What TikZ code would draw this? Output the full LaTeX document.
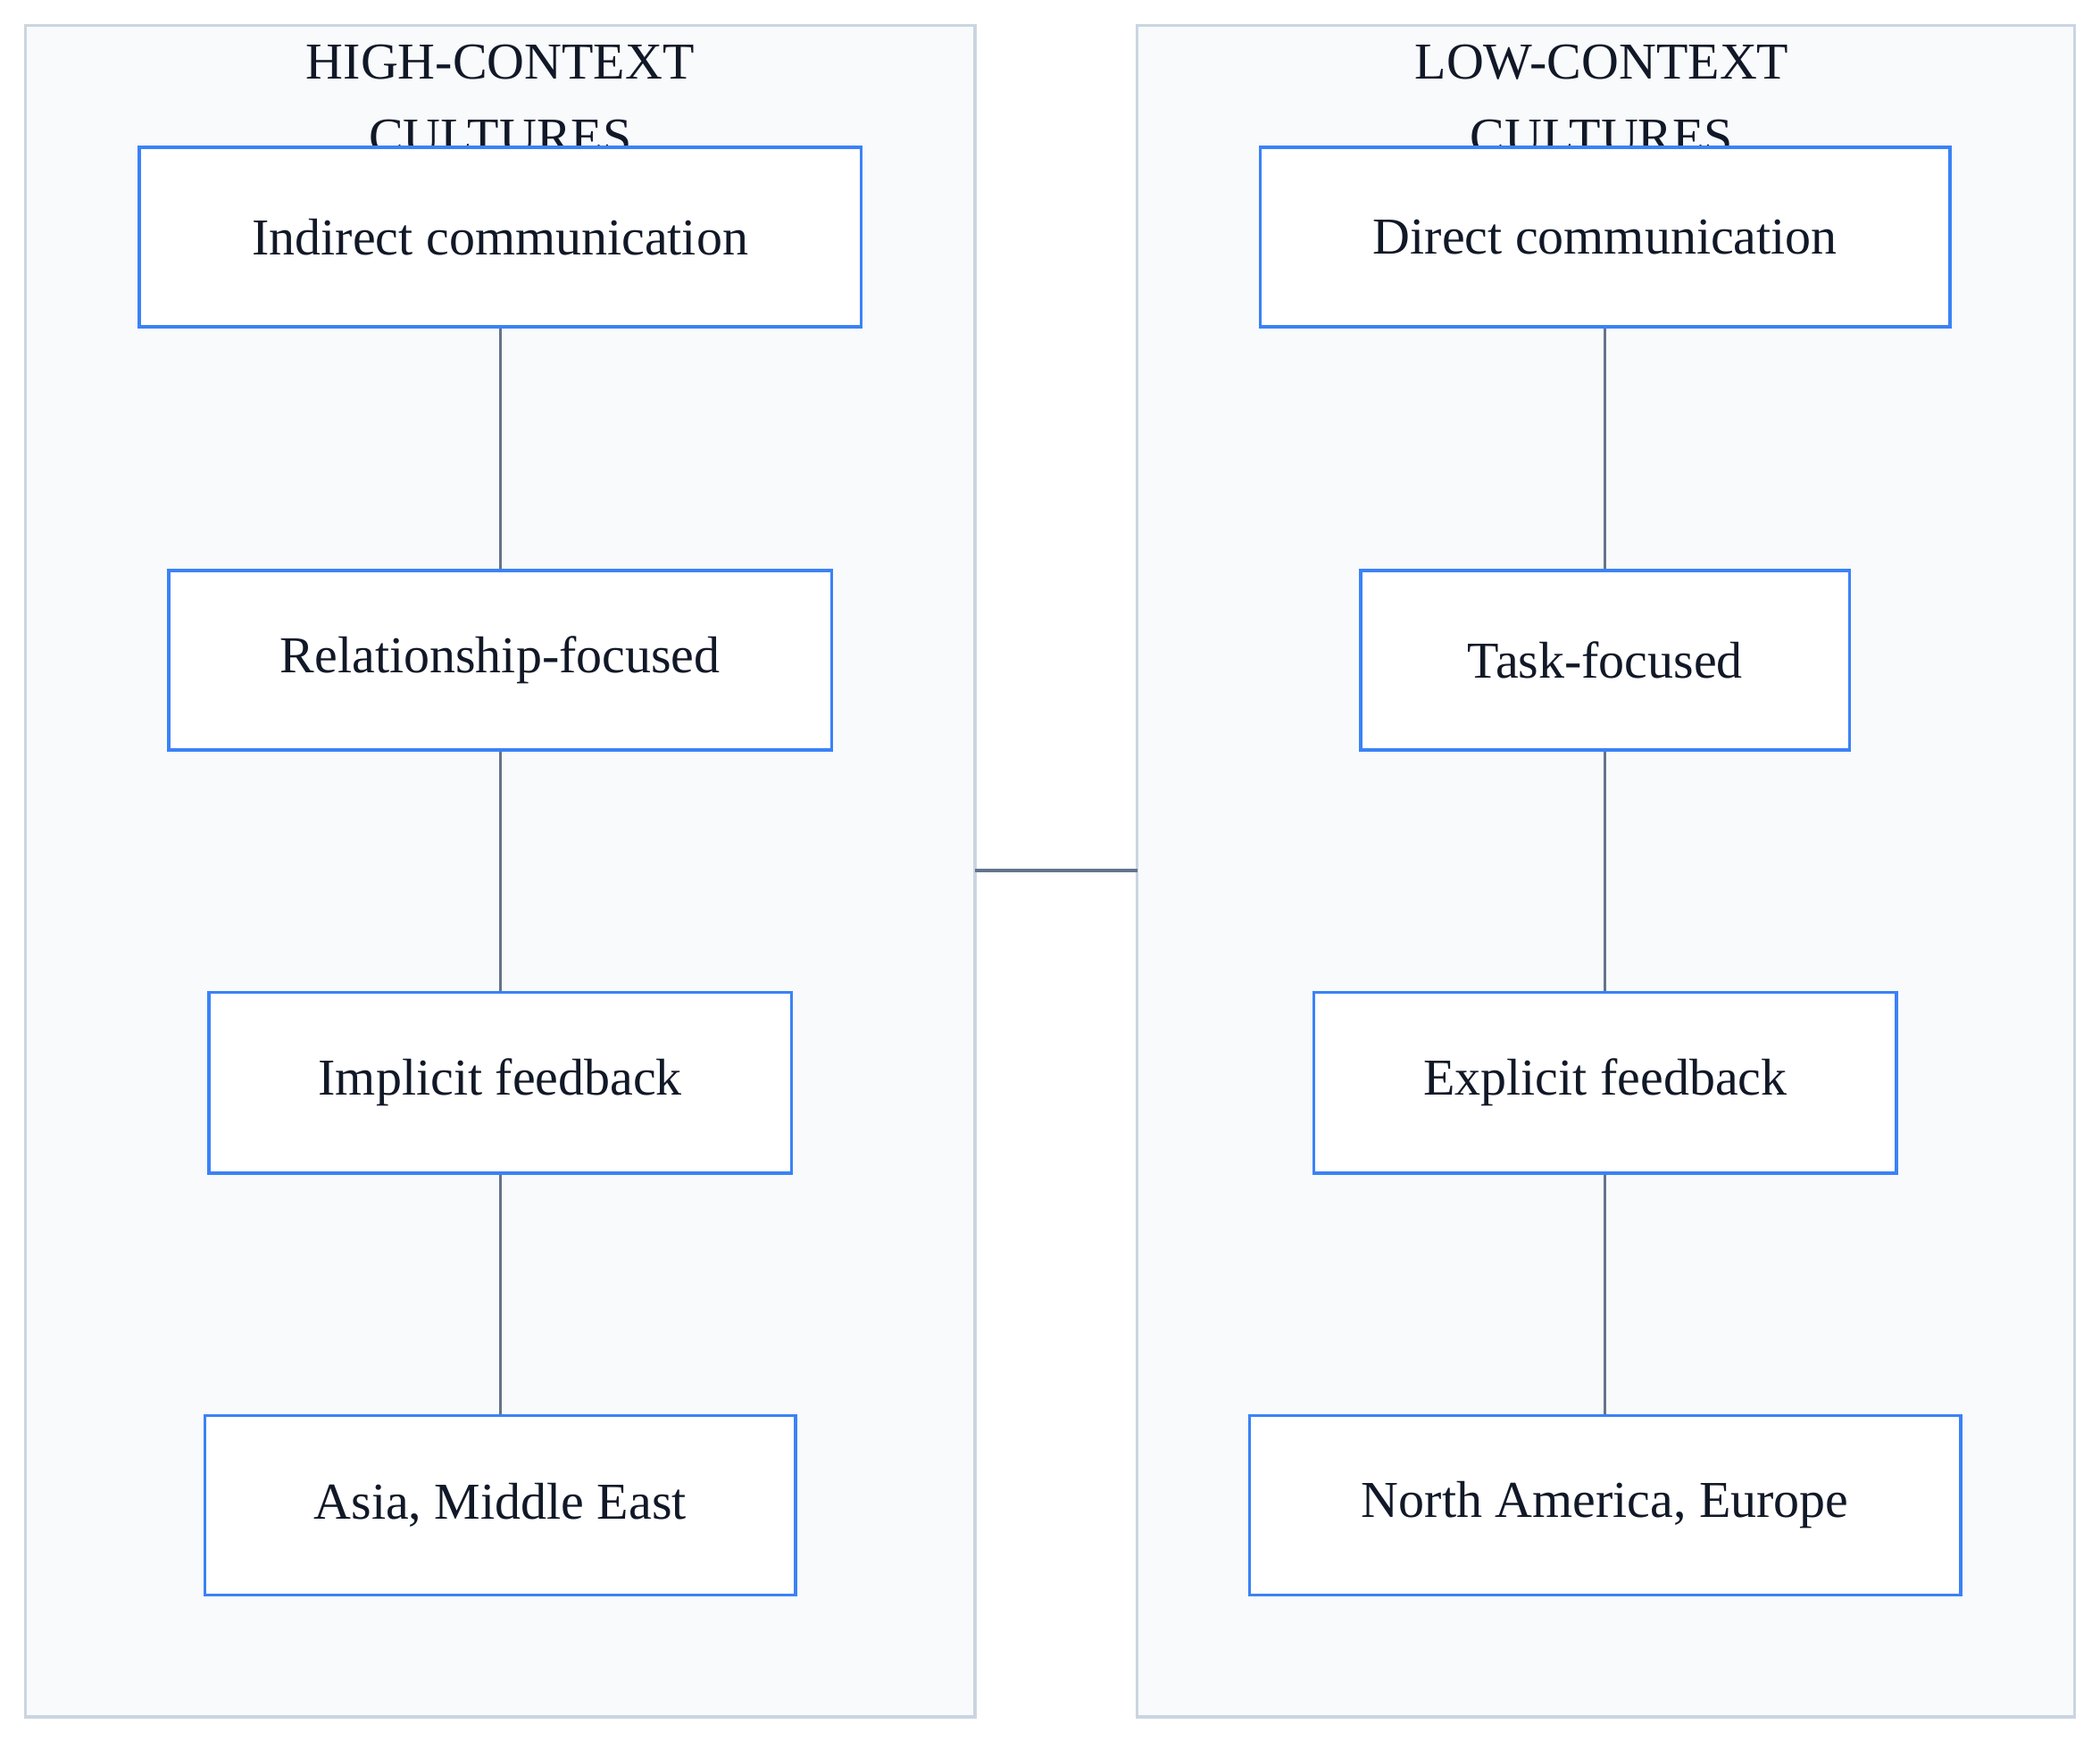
\documentclass[tikz,border=0pt]{standalone}
\usepackage{fontspec}
\setmainfont{Liberation Serif}
\definecolor{clfill}{HTML}{F8FAFC}
\definecolor{clline}{HTML}{CBD5E1}
\definecolor{boxline}{HTML}{3B82F6}
\definecolor{edge}{HTML}{64748B}
\definecolor{txt}{HTML}{111827}
\begin{document}
\begin{tikzpicture}[x=0.02cm,y=-0.02cm,
  cl/.style={draw=clline,fill=clfill,line width=1.2pt},
  box/.style={draw=boxline,fill=white,line width=1.2pt,text=txt,font=\fontsize{22}{26}\selectfont,inner sep=0pt},
  ttl/.style={text=txt,font=\fontsize{22}{32}\selectfont,align=center,anchor=north},
  conn/.style={draw=edge,line width=1.2pt}]
\useasboundingbox (0,0) rectangle (1568,1300);
\draw[cl] (19,19) rectangle (728,1282);
\draw[cl] (849,19) rectangle (1549,1282);
\node[ttl] (t1) at (373.5,27) {HIGH-CONTEXT\\CULTURES};
\node[ttl] (t2) at (1196,27) {LOW-CONTEXT\\CULTURES};
\coordinate (cA) at (728,650);
\coordinate (cB) at (849,650);
\draw[conn] (cA) -- (cB);
\def\bx#1#2#3#4#5#6{\node[box,minimum width=(#4-#2)*0.02cm,minimum height=(#5-#3)*0.02cm] (#1) at ({(#2+#4)/2},{(#3+#5)/2}) {#6};}
\bx{l1}{104}{110}{643}{244}{Indirect communication}
\bx{l2}{126}{426}{621}{560}{Relationship-focused}
\bx{l3}{156}{741}{591}{876}{Implicit feedback}
\bx{l4}{153}{1057}{594}{1191}{Asia, Middle East}
\bx{r1}{941}{110}{1456}{244}{Direct communication}
\bx{r2}{1016}{426}{1381}{560}{Task-focused}
\bx{r3}{981}{741}{1416}{876}{Explicit feedback}
\bx{r4}{933}{1057}{1464}{1191}{North America, Europe}
\draw[conn] (l1) -- (l2); \draw[conn] (l2) -- (l3); \draw[conn] (l3) -- (l4);
\draw[conn] (r1) -- (r2); \draw[conn] (r2) -- (r3); \draw[conn] (r3) -- (r4);
\end{tikzpicture}
\end{document}
